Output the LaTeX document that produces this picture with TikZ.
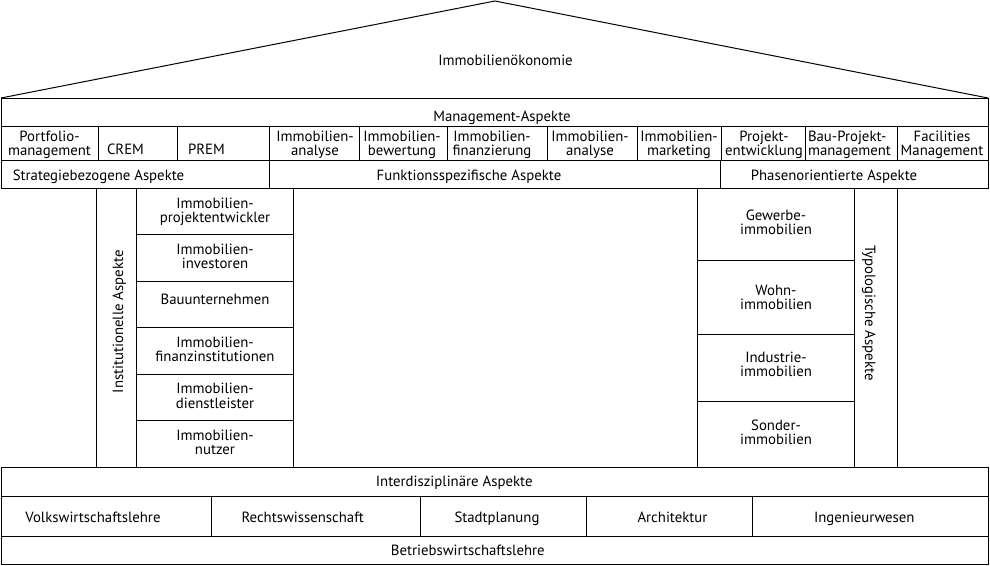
\documentclass[tikz,border=0pt]{standalone}
\usepackage{fontspec}
\setmainfont{PT Sans}
\newcommand\tstr{\rule{0pt}{12pt}}
\begin{document}
\begin{tikzpicture}[x=1pt,y=-1pt,
  cell/.style={draw=black,line width=0.9pt,inner sep=0pt,outer sep=0pt},
  txt/.style={inner sep=0pt,outer sep=0pt,align=center,font=\fontsize{14.8}{14.5}\selectfont},
  txtl/.style={txt,font=\fontsize{14.8}{14.5}\selectfont},
  txtr/.style={txt,font=\fontsize{14.8}{14.3}\selectfont},
  roofline/.style={draw=black,line width=1pt,line join=miter}]
\useasboundingbox (0,0) rectangle (990,565);
\newcommand\cellbox[5]{%
  \pgfmathsetmacro\cw{#4-#2}\pgfmathsetmacro\ch{#5-#3}%
  \node[cell,minimum width=\cw pt,minimum height=\ch pt,anchor=north west] (#1) at (#2,#3) {};}
% roof
\coordinate (apex) at (495,1);
\node[txt,anchor=base] (title) at (505.5,65) {Immobilienökonomie};
% management rows
\cellbox{mgmt}{1}{98}{988}{126}
\draw[roofline] (mgmt.north west) -- (apex) -- (mgmt.north east);
\node[txt,anchor=base] (mgmtt) at (502,121.7) {Management-Aspekte};
\cellbox{pf}{1}{126}{98}{160}
\cellbox{crem}{98}{126}{177}{160}
\cellbox{prem}{177}{126}{269}{160}
\cellbox{ia}{269}{126}{359}{160}
\cellbox{ib}{359}{126}{447}{160}
\cellbox{if}{447}{126}{547}{160}
\cellbox{ia2}{547}{126}{637}{160}
\cellbox{im}{637}{126}{721}{160}
\cellbox{pe}{721}{126}{805}{160}
\cellbox{bp}{805}{126}{897}{160}
\cellbox{fm}{897}{126}{988}{160}
\node[txt,anchor=north] (pft) at (49.5,129) {\tstr Portfolio-\\management};
\node[txt,anchor=base west] (cremt) at (107,154) {CREM};
\node[txt,anchor=base west] (premt) at (188,154) {PREM};
\node[txt,anchor=north] (iat) at (315,129) {\tstr Immobilien-\\analyse};
\node[txt,anchor=north] (ibt) at (402,129) {\tstr Immobilien-\\bewertung};
\node[txt,anchor=north] (ift) at (492,129) {\tstr Immobilien-\\finanzierung};
\node[txt,anchor=north] (ia2t) at (590,129) {\tstr Immobilien-\\analyse};
\node[txt,anchor=north] (imt) at (679,129) {\tstr Immobilien-\\marketing};
\node[txt,anchor=north] (pet) at (764,129) {\tstr Projekt-\\entwicklung};
\node[txt,anchor=north west,align=left] (bpt) at (808,129) {\tstr Bau-Projekt-\\management};
\node[txt,anchor=north] (fmt) at (942,129) {\tstr Facilities\\Management};
\cellbox{sa}{1}{160}{269}{188}
\cellbox{fa}{269}{160}{720}{188}
\cellbox{pa}{720}{160}{988}{188}
\node[txt,anchor=base] (sat) at (98.5,180.5) {Strategiebezogene Aspekte};
\node[txt,anchor=base] (fat) at (469,180.5) {Funktionsspezifische Aspekte};
\node[txt,anchor=base] (pat) at (834,180.5) {Phasenorientierte Aspekte};
% left column
\cellbox{inst}{96}{188}{136}{467}
\node[txt,rotate=90,anchor=base] (instt) at (123,321.7) {Institutionelle Aspekte};
\cellbox{l1}{136}{188}{293}{234}
\cellbox{l2}{136}{234}{293}{281}
\cellbox{l3}{136}{281}{293}{327}
\cellbox{l4}{136}{327}{293}{374}
\cellbox{l5}{136}{374}{293}{420}
\cellbox{l6}{136}{420}{293}{467}
\node[txtl,anchor=north] (l1t) at (215,196) {\tstr Immobilien-\\projektentwickler};
\node[txtl,anchor=north] (l2t) at (215,242.2) {\tstr Immobilien-\\investoren};
\node[txtl,anchor=base] (l3t) at (215,304.5) {Bauunternehmen};
\node[txtl,anchor=north] (l4t) at (215,335.2) {\tstr Immobilien-\\finanzinstitutionen};
\node[txtl,anchor=north] (l5t) at (215,381.7) {\tstr Immobilien-\\dienstleister};
\node[txtl,anchor=north] (l6t) at (215,428.2) {\tstr Immobilien-\\nutzer};
% right column
\cellbox{r1}{697}{188}{854}{260}
\cellbox{r2}{697}{260}{854}{334}
\cellbox{r3}{697}{334}{854}{401}
\cellbox{r4}{697}{401}{854}{467}
\cellbox{typ}{854}{188}{897}{467}
\node[txtr,anchor=north] (r1t) at (776,208) {\tstr Gewerbe-\\immobilien};
\node[txtr,anchor=north] (r2t) at (776,283) {\tstr Wohn-\\immobilien};
\node[txtr,anchor=north] (r3t) at (776,350.3) {\tstr Industrie-\\immobilien};
\node[txtr,anchor=north] (r4t) at (776,418) {\tstr Sonder-\\immobilien};
\node[txt,rotate=-90,anchor=base] (typt) at (865,313) {Typologische Aspekte};
% bottom
\cellbox{inter}{1}{467}{988}{496}
\node[txt,anchor=base] (intert) at (454.2,486) {Interdisziplinäre Aspekte};
\cellbox{vwl}{1}{496}{211}{536}
\cellbox{rw}{211}{496}{420}{536}
\cellbox{sp}{420}{496}{586}{536}
\cellbox{ar}{586}{496}{752}{536}
\cellbox{iw}{752}{496}{988}{536}
\node[txt,anchor=base] (vwlt) at (93,522.7) {Volkswirtschaftslehre};
\node[txt,anchor=base] (rwt) at (302.7,522.7) {Rechtswissenschaft};
\node[txt,anchor=base] (spt) at (497,522.7) {Stadtplanung};
\node[txt,anchor=base] (art) at (672.5,522.7) {Architektur};
\node[txt,anchor=base] (iwt) at (864.3,522.7) {Ingenieurwesen};
\cellbox{bwl}{1}{536}{988}{564}
\node[txt,anchor=base] (bwlt) at (467.8,555) {Betriebswirtschaftslehre};
\end{tikzpicture}
\end{document}
